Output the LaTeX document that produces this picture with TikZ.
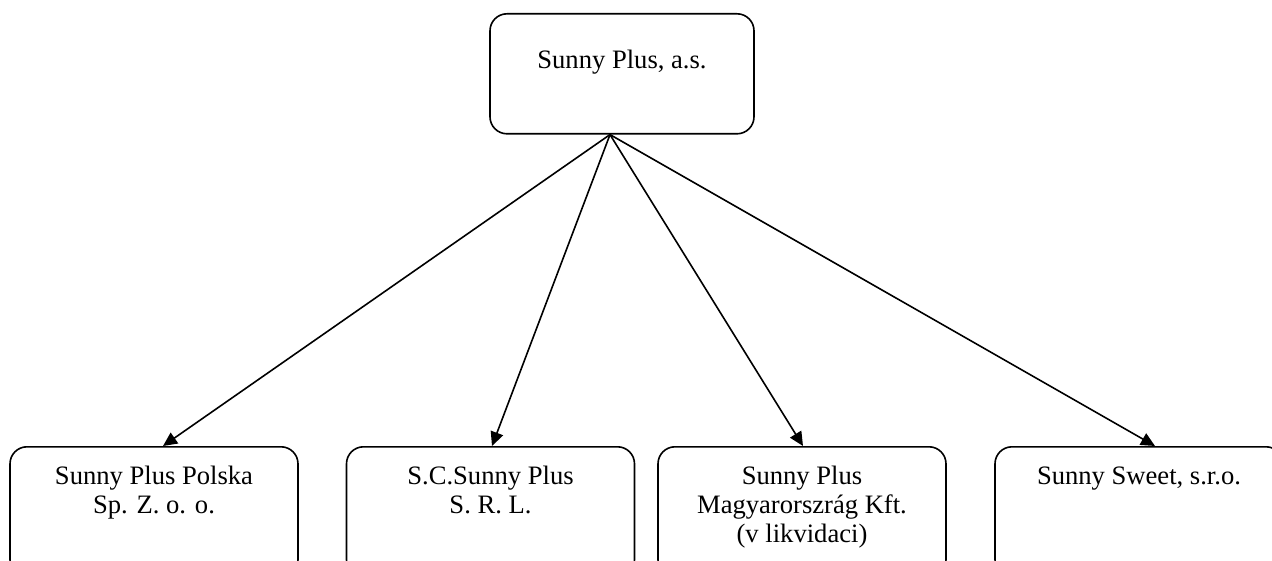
\documentclass[tikz,border=0pt]{standalone}
\usepackage{fontspec}
\setmainfont{Liberation Serif}
\usetikzlibrary{arrows.meta}
\newcommand{\toplines}[1]{\begin{tabular}[t]{@{}c@{}}#1\end{tabular}}
\tikzset{
  unit/.style={draw, line width=1.6pt, rounded corners=17pt, anchor=north,
    minimum width=288pt, inner ysep=0pt,
    text height=38pt, text depth=92pt,
    font=\fontsize{26.6pt}{29pt}\selectfont},
  owns/.style={line width=1.6pt, -{Triangle[length=14pt,width=13pt]}}
}
\begin{document}
\begin{tikzpicture}[x=1pt,y=-1pt]
\useasboundingbox (0,0) rectangle (1272,561);
\node[unit, minimum width=264pt, text height=55pt, text depth=65pt] (parent) at (622,13) {Sunny Plus, a.s.};
\node[unit] (polska) at (154,446) {\toplines{Sunny Plus Polska\\Sp. Z. o. o.}};
\node[unit] (srl) at (490.5,446) {\toplines{S.C.Sunny Plus\\S. R. L.}};
\node[unit] (kft) at (802,446) {\toplines{Sunny Plus\\Magyarorszr\'ag Kft.\\(v likvidaci)}};
\node[unit] (sweet) at (1139,446) {Sunny Sweet, s.r.o.};
\draw[owns] ([xshift=-12pt]parent.south) -- ([xshift=9pt]polska.north);
\draw[owns] ([xshift=-12pt]parent.south) -- ([xshift=1.5pt]srl.north);
\draw[owns] ([xshift=-12pt]parent.south) -- ([xshift=1pt]kft.north);
\draw[owns] ([xshift=-12pt]parent.south) -- ([xshift=16pt]sweet.north);
\end{tikzpicture}
\end{document}
